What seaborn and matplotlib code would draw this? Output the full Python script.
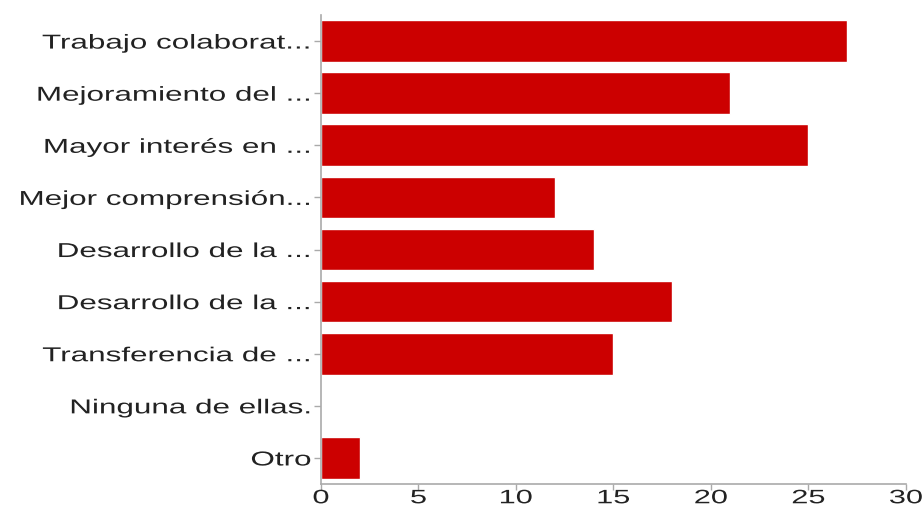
import matplotlib
matplotlib.use("Agg")
import matplotlib.pyplot as plt
import seaborn as sns
import pandas as pd
from matplotlib.patheffects import AbstractPathEffect
from matplotlib.transforms import Affine2D

categories = [
    "Trabajo colaborat...",
    "Mejoramiento del ...",
    "Mayor interés en ...",
    "Mejor comprensión...",
    "Desarrollo de la ...",
    "Desarrollo de la ...",
    "Transferencia de ...",
    "Ninguna de ellas.",
    "Otro",
]
values = [27, 21, 25, 12, 14, 18, 15, 0, 2]
x_ticks = [0, 5, 10, 15, 20, 25, 30]


class HStretch(AbstractPathEffect):
    """Stretch glyphs horizontally about an anchor (text stays real text)."""
    def __init__(self, sx, anchor):
        super().__init__()
        self.sx = sx
        self.anchor = anchor

    def draw_path(self, renderer, gc, tpath, affine, rgbFace=None):
        ext = tpath.get_extents()
        if self.anchor == "right":
            xa = ext.x1
        elif self.anchor == "center":
            xa = (ext.x0 + ext.x1) / 2
        else:
            xa = ext.x0
        pre = Affine2D().translate(-xa, 0).scale(self.sx, 1).translate(xa, 0)
        renderer.draw_path(gc, tpath, pre + affine, rgbFace)


sns.set_theme(style="white")
plt.rcParams['font.family'] = ['Liberation Sans', 'DejaVu Sans']

keys = [f"k{i}" for i in range(len(categories))]
df = pd.DataFrame({"key": keys, "val": values})

fig = plt.figure(figsize=(9.24, 5.11), dpi=100)
ax = fig.add_axes([0.3474, 0.0528, 0.9805 - 0.3474, 0.9706 - 0.0528])
sns.barplot(data=df, y="key", x="val", orient="h", color="#cc0000",
            saturation=1, width=0.8, ax=ax, order=keys)
ax.set_xlim(0, 30)
ax.set_ylim(8.5, -0.5)
ax.set_xticks(x_ticks)
ax.set_xticklabels([str(t) for t in x_ticks])
ax.set_yticks(range(len(categories)))
ax.set_yticklabels(categories)
ax.set_xlabel("")
ax.set_ylabel("")
for s in ["top", "right"]:
    ax.spines[s].set_visible(False)
for s in ["left", "bottom"]:
    ax.spines[s].set_color("#aaaaaa")
    ax.spines[s].set_linewidth(1.2)
ax.tick_params(axis="both", which="both", left=True, bottom=True,
               colors="#aaaaaa", labelcolor="#222222",
               labelsize=14.5, length=5, width=1)
ax.tick_params(axis="y", pad=2)
ax.tick_params(axis="x", length=4, pad=0.5, labelsize=14)

for lab in ax.get_yticklabels():
    lab.set_path_effects([HStretch(1.56, "right")])
for lab in ax.get_xticklabels():
    lab.set_path_effects([HStretch(1.58, "center")])

fig.savefig("out.png", dpi=100)
